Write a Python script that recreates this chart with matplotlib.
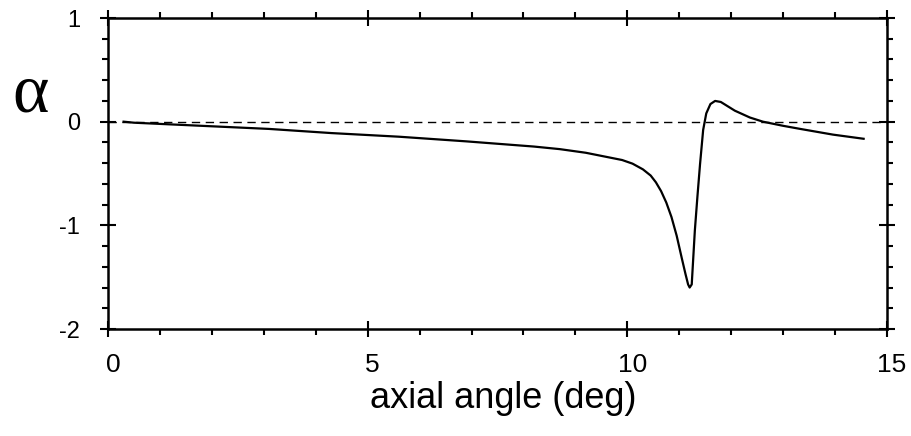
import numpy as np
import matplotlib.pyplot as plt
import matplotlib.transforms as mtransforms
from matplotlib.ticker import MultipleLocator, FuncFormatter

# axial angle (deg) vs alpha
angle = [0.3, 0.5, 1.8, 3.1, 4.3, 5.6, 6.9, 8.2, 8.7, 9.2, 9.6, 9.9, 10.1,
         10.3, 10.45, 10.55, 10.65, 10.75, 10.85, 10.95, 11.05, 11.12,
         11.17, 11.2, 11.24, 11.3, 11.35, 11.4, 11.46, 11.52, 11.6, 11.69,
         11.8, 12.07, 12.36, 12.61, 13.0, 13.33, 13.96, 14.55]
alpha = [0.0, -0.01, -0.04, -0.07, -0.11, -0.145, -0.19, -0.24, -0.265,
         -0.30, -0.34, -0.37, -0.405, -0.46, -0.52, -0.585, -0.67, -0.78,
         -0.92, -1.10, -1.32, -1.47, -1.57, -1.60, -1.57, -1.05, -0.72,
         -0.41, -0.08, 0.08, 0.17, 0.20, 0.19, 0.106, 0.04, 0.0, -0.04,
         -0.07, -0.125, -0.165]

xticks = [0, 5, 10, 15]
yticks = [-2, -1, 0, 1]

plt.rcParams['font.family'] = ['Liberation Sans', 'DejaVu Sans']

fig = plt.figure(figsize=(9.11, 4.36), dpi=100)
ax = fig.add_axes([108/911, 1-329/436, 779/911, 311/436])

ax.axhline(0, color='k', lw=1.0, ls=(0, (6, 4)))
ax.plot(angle, alpha, color='k', lw=1.6)

ax.set_xlim(0, 15)
ax.set_ylim(-2, 1)
ax.set_xticks(xticks)
ax.set_yticks(yticks)
fmt = FuncFormatter(lambda v, p: '%d' % v)
ax.xaxis.set_major_formatter(fmt)
ax.yaxis.set_major_formatter(fmt)
ax.xaxis.set_minor_locator(MultipleLocator(1))
ax.yaxis.set_minor_locator(MultipleLocator(0.2))
ax.tick_params(which='major', direction='inout', length=12, width=1.5,
               top=True, right=True)
ax.tick_params(axis='x', which='major', labelsize=19, pad=11)
ax.tick_params(axis='y', which='major', labelsize=17, pad=14)
ax.tick_params(which='minor', direction='out', length=4, width=1.5,
               top=True, right=True)
for s in ax.spines.values():
    s.set_linewidth(1.8)

shift = mtransforms.ScaledTranslation(5/100, 0, fig.dpi_scale_trans)
for lab in ax.get_xticklabels():
    lab.set_transform(lab.get_transform() + shift)

fig.text(503/911, 1-408/436, 'axial angle (deg)', fontsize=26,
         ha='center', va='baseline')
fig.text(31/911, 1-95/436, 'α', fontsize=50, ha='center',
         va='center', family='Liberation Serif')

fig.savefig('out.png', dpi=100)
